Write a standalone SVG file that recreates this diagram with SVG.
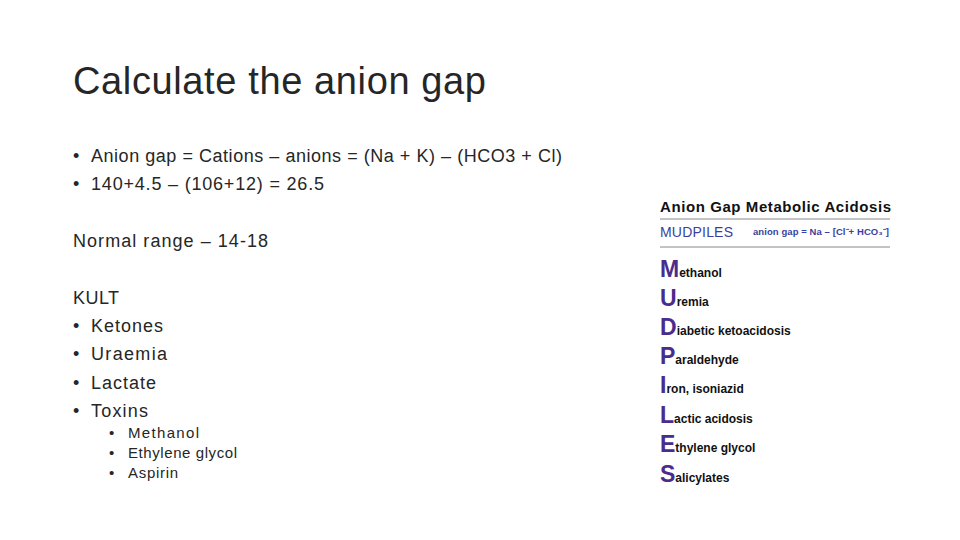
<svg xmlns="http://www.w3.org/2000/svg" width="960" height="540" viewBox="0 0 960 540">
<style>
.t{font-family:"Liberation Sans","DejaVu Sans",sans-serif;fill:#262626}
.b{font-size:18px}.s{font-size:15px}
.h{font-family:"Liberation Sans",sans-serif;font-weight:bold;fill:#111}
.m{font-family:"Liberation Sans",sans-serif;font-weight:bold;fill:#4a2c8c;font-size:23px}
.r{font-family:"Liberation Sans",sans-serif;font-weight:bold;fill:#111;font-size:12px}
</style>
<rect width="960" height="540" fill="#fff"/>
<g id="title"><text class="t" x="73" y="94" font-size="38" textLength="413">Calculate the anion gap</text></g>
<g id="body">
<text class="t b" x="73" y="162">• <tspan x="91" textLength="471">Anion gap = Cations – anions = (Na + K) – (HCO3 + Cl)</tspan></text>
<text class="t b" x="73" y="190">• <tspan x="91" textLength="233">140+4.5 – (106+12) = 26.5</tspan></text>
<text class="t b" x="73" y="247" textLength="195">Normal range – 14-18</text>
<text class="t b" x="73" y="304" textLength="46">KULT</text>
<text class="t b" x="73" y="332">• <tspan x="91" textLength="72">Ketones</tspan></text>
<text class="t b" x="73" y="360">• <tspan x="91" textLength="76">Uraemia</tspan></text>
<text class="t b" x="73" y="389">• <tspan x="91" textLength="65">Lactate</tspan></text>
<text class="t b" x="73" y="417">• <tspan x="91" textLength="57">Toxins</tspan></text>
<text class="t s" x="109" y="438">• <tspan x="128" textLength="71">Methanol</tspan></text>
<text class="t s" x="109" y="458">• <tspan x="128" textLength="109">Ethylene glycol</tspan></text>
<text class="t s" x="109" y="478">• <tspan x="128" textLength="50">Aspirin</tspan></text>
</g>
<g id="mudpiles">
<text class="h" x="660" y="212" font-size="15" textLength="231">Anion Gap Metabolic Acidosis</text>
<line x1="660" y1="219" x2="890" y2="219" stroke="#888" stroke-width="1"/>
<text x="660" y="237" font-family="Liberation Sans,sans-serif" font-size="14" fill="#3b3f9e" textLength="73">MUDPILES</text>
<text x="753" y="235" font-family="Liberation Sans,sans-serif" font-size="9.5" font-weight="bold" fill="#3b3f9e" textLength="136">anion gap = Na – [Cl⁻+ HCO₃⁻]</text>
<line x1="660" y1="247" x2="890" y2="247" stroke="#888" stroke-width="1"/>
<text x="660" y="277"><tspan class="m">M</tspan><tspan class="r">ethanol</tspan></text>
<text x="660" y="306"><tspan class="m">U</tspan><tspan class="r">remia</tspan></text>
<text x="660" y="335"><tspan class="m">D</tspan><tspan class="r">iabetic ketoacidosis</tspan></text>
<text x="660" y="364"><tspan class="m">P</tspan><tspan class="r">araldehyde</tspan></text>
<text x="660" y="393"><tspan class="m">I</tspan><tspan class="r">ron, isoniazid</tspan></text>
<text x="660" y="423"><tspan class="m">L</tspan><tspan class="r">actic acidosis</tspan></text>
<text x="660" y="452"><tspan class="m">E</tspan><tspan class="r">thylene glycol</tspan></text>
<text x="660" y="482"><tspan class="m">S</tspan><tspan class="r">alicylates</tspan></text>
</g>
</svg>
